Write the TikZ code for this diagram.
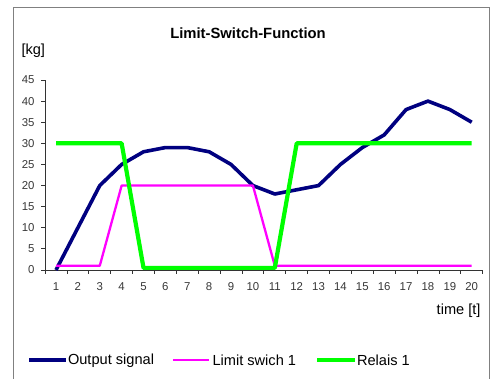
\documentclass[tikz,border=0pt]{standalone}
\usepackage{fontspec}
\setmainfont{Liberation Sans}
\begin{document}
\begin{tikzpicture}[x=1pt,y=-1pt,
  every node/.style={inner sep=0pt,outer sep=0pt},
  ticklbl/.style={font=\fontsize{11.4}{12}\selectfont,text=black!78},
  bigtxt/.style={font=\fontsize{14.6}{15}\selectfont},
  titletxt/.style={font=\fontsize{14.8}{15}\selectfont\bfseries},
  outsig/.style={draw={rgb,255:red,0;green,0;blue,128},line width=3.6pt,line join=round},
  limsw/.style={draw={rgb,255:red,255;green,0;blue,255},line width=2.3pt,line join=round},
  relais/.style={draw={rgb,255:red,0;green,255;blue,0},line width=4.2pt,line join=round},
  axisline/.style={draw=black!80,line width=0.8pt}]
\useasboundingbox (0,0) rectangle (492,379);
\fill[white] (0,0) rectangle (492,379);
% frame
\draw[gray,line width=0.9pt] (13,381) -- (13,7.5) -- (489,7.5) -- (489,381);
% title and axis titles
\node[titletxt] (title) at (248,33) {Limit-Switch-Function};
\node[bigtxt,anchor=west] (ylab) at (21.5,51) {[kg]};
\node[bigtxt,anchor=east] (xlab) at (480.5,310.5) {time [t]};
\begin{scope}[shift={(34.12pt,-270pt)},x=21.88pt,y=4.222pt]
  % axes
  \draw[axisline] (0.5,45) -- (0.5,0) -- (20.5,0);
  \foreach \v in {0,5,...,45} {
    \draw[axisline] (0.5,\v) -- ++(-4pt,0);
    \node[ticklbl,anchor=east] (yl\v) at ([xshift=-10.5pt]0.5,\v) {\v};
  }
  \foreach \t in {0,...,20} {
    \draw[axisline] (\t+0.5,0) -- ++(0,-4pt);
  }
  \foreach \t in {1,...,20} {
    \node[ticklbl] (xl\t) at ([yshift=-17pt]\t,0) {\t};
  }
  % series
  \draw[outsig] (1,0) -- (2,10) -- (3,20) -- (4,25) -- (5,28) -- (6,29) -- (7,29)
    -- (8,28) -- (9,25) -- (10,20) -- (11,18) -- (12,19) -- (13,20) -- (14,25)
    -- (15,29) -- (16,32) -- (17,38) -- (18,40) -- (19,38) -- (20,35);
  \draw[limsw] (1,1) -- (2,1) -- (3,1) -- (4,20) -- (5,20) -- (6,20) -- (7,20)
    -- (8,20) -- (9,20) -- (10,20) -- (11,1) -- (12,1) -- (13,1) -- (14,1)
    -- (15,1) -- (16,1) -- (17,1) -- (18,1) -- (19,1) -- (20,1);
  \draw[relais] (1,30) -- (2,30) -- (3,30) -- (4,30) -- (5,0.5) -- (6,0.5) -- (7,0.5)
    -- (8,0.5) -- (9,0.5) -- (10,0.5) -- (11,0.5) -- (12,30) -- (13,30) -- (14,30)
    -- (15,30) -- (16,30) -- (17,30) -- (18,30) -- (19,30) -- (20,30);
\end{scope}
% legend
\coordinate (l1a) at (29,360); \coordinate (l1b) at (65.5,360);
\coordinate (l2a) at (173,360); \coordinate (l2b) at (208.5,360);
\coordinate (l3a) at (317,360); \coordinate (l3b) at (355,360);
\draw[outsig] (l1a) -- (l1b);
\draw[limsw] (l2a) -- (l2b);
\draw[relais] (l3a) -- (l3b);
\node[bigtxt,anchor=west] (t1) at (68,360.5) {Output signal};
\node[bigtxt,anchor=west] (t2) at (212.5,360.5) {Limit swich 1};
\node[bigtxt,anchor=west] (t3) at (357,360.5) {Relais 1};
\end{tikzpicture}
\end{document}
